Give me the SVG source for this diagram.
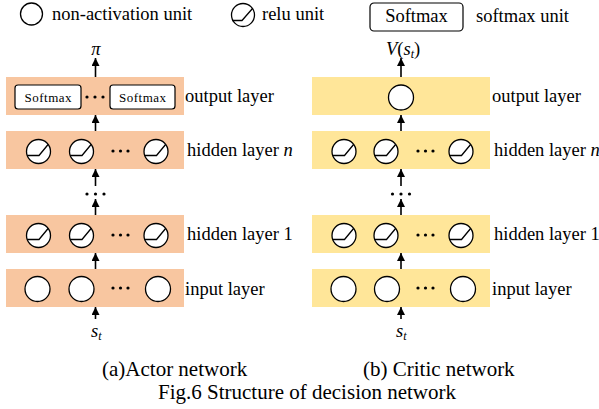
<svg xmlns="http://www.w3.org/2000/svg" width="599" height="409" viewBox="0 0 599 409">
<style>
text{font-family:"Liberation Serif","Times New Roman",serif;fill:#000}
.lbl{font-size:18.5px}
.cap{font-size:21px}
.it{font-style:italic}
.actor{fill:#F8C6A0}
.critic{fill:#FFE699}
.u{fill:#fff;stroke:#000;stroke-width:1.3}
.relu{fill:none;stroke:#000;stroke-width:1.3}
.sm{fill:#fff;stroke:#000;stroke-width:1.2}
.smt{font-size:13px}
.dot{fill:#000}
.arr{stroke:#000;stroke-width:1.6;fill:none;marker-end:url(#ah)}
</style>
<defs>
<marker id="ah" viewBox="0 0 10 10" refX="10" refY="5" markerWidth="8" markerHeight="8" markerUnits="userSpaceOnUse" orient="auto">
<path d="M0,0 L10,5 L0,10 z" fill="#000"/>
</marker>
<g id="reluU">
<circle r="12" class="u"/>
<path d="M-11.3,4 H0.5 L9.6,-7" class="relu"/>
</g>
</defs>

<!-- legend -->
<g id="legend">
<circle cx="31.5" cy="14" r="11" class="u"/>
<text x="52" y="20" class="lbl">non-activation unit</text>
<circle cx="243" cy="15" r="11.5" class="u"/>
<path d="M232.3,20.5 H242 L252.5,8.5" class="relu"/>
<text x="262" y="20" class="lbl">relu unit</text>
<rect x="370" y="3" width="93" height="28" rx="4" class="sm"/>
<text x="416.5" y="22" class="lbl" text-anchor="middle">Softmax</text>
<text x="476" y="22" class="lbl">softmax unit</text>
</g>

<!-- actor network -->
<g id="actor-output">
<rect x="6" y="77" width="178" height="38" class="actor"/>
<rect x="15" y="85" width="66" height="24" rx="3" class="sm"/>
<text x="48" y="102" class="smt" text-anchor="middle" textLength="47" lengthAdjust="spacing">Softmax</text>
<circle cx="87" cy="97" r="1.6" class="dot"/><circle cx="95" cy="97" r="1.6" class="dot"/><circle cx="103" cy="97" r="1.6" class="dot"/>
<rect x="110" y="85" width="65" height="24" rx="3" class="sm"/>
<text x="142.5" y="102" class="smt" text-anchor="middle" textLength="47" lengthAdjust="spacing">Softmax</text>
<text x="185" y="102" class="lbl">output layer</text>
</g>
<g id="actor-hidden-n">
<rect x="6" y="131" width="178" height="38" class="actor"/>
<use href="#reluU" x="38.5" y="151.5"/>
<use href="#reluU" x="81.5" y="151.5"/>
<circle cx="113" cy="151" r="1.6" class="dot"/><circle cx="120.5" cy="151" r="1.6" class="dot"/><circle cx="128" cy="151" r="1.6" class="dot"/>
<use href="#reluU" x="156" y="151.5"/>
<text x="187" y="156" class="lbl">hidden layer <tspan class="it">n</tspan></text>
</g>
<g id="actor-hidden-1">
<rect x="6" y="215" width="178" height="38" class="actor"/>
<use href="#reluU" x="38.5" y="235.5"/>
<use href="#reluU" x="81.5" y="235.5"/>
<circle cx="113" cy="235" r="1.6" class="dot"/><circle cx="120.5" cy="235" r="1.6" class="dot"/><circle cx="128" cy="235" r="1.6" class="dot"/>
<use href="#reluU" x="156" y="235.5"/>
<text x="187" y="240" class="lbl">hidden layer 1</text>
</g>
<g id="actor-input">
<rect x="6" y="269" width="178" height="38" class="actor"/>
<circle cx="37.5" cy="289" r="12.5" class="u"/>
<circle cx="81.5" cy="289" r="12.5" class="u"/>
<circle cx="113" cy="288" r="1.6" class="dot"/><circle cx="120.5" cy="288" r="1.6" class="dot"/><circle cx="128" cy="288" r="1.6" class="dot"/>
<circle cx="158" cy="289" r="12.5" class="u"/>
<text x="185" y="295" class="lbl">input layer</text>
</g>
<g id="actor-labels">
<text x="96" y="55" class="lbl it" text-anchor="middle">π</text>
<text x="91" y="337" class="lbl it">s<tspan font-size="12" dy="3">t</tspan></text>
<circle cx="87" cy="194" r="1.6" class="dot"/><circle cx="95.5" cy="194" r="1.6" class="dot"/><circle cx="104" cy="194" r="1.6" class="dot"/>
</g>

<!-- critic network -->
<g id="critic-output">
<rect x="312" y="77" width="178" height="38" class="critic"/>
<circle cx="401" cy="97.5" r="12.5" class="u"/>
<text x="492" y="102" class="lbl">output layer</text>
</g>
<g id="critic-hidden-n">
<rect x="312" y="131" width="178" height="38" class="critic"/>
<use href="#reluU" x="344" y="151.5"/>
<use href="#reluU" x="386" y="151.5"/>
<circle cx="418" cy="151" r="1.6" class="dot"/><circle cx="425.5" cy="151" r="1.6" class="dot"/><circle cx="433" cy="151" r="1.6" class="dot"/>
<use href="#reluU" x="461" y="151.5"/>
<text x="494" y="156" class="lbl">hidden layer <tspan class="it">n</tspan></text>
</g>
<g id="critic-hidden-1">
<rect x="312" y="215" width="178" height="38" class="critic"/>
<use href="#reluU" x="344" y="235.5"/>
<use href="#reluU" x="386" y="235.5"/>
<circle cx="418" cy="235" r="1.6" class="dot"/><circle cx="425.5" cy="235" r="1.6" class="dot"/><circle cx="433" cy="235" r="1.6" class="dot"/>
<use href="#reluU" x="461" y="235.5"/>
<text x="494" y="240" class="lbl">hidden layer 1</text>
</g>
<g id="critic-input">
<rect x="312" y="269" width="178" height="38" class="critic"/>
<circle cx="343.5" cy="289" r="12.5" class="u"/>
<circle cx="387" cy="289" r="12.5" class="u"/>
<circle cx="418" cy="288" r="1.6" class="dot"/><circle cx="425.5" cy="288" r="1.6" class="dot"/><circle cx="433" cy="288" r="1.6" class="dot"/>
<circle cx="463" cy="289" r="12.5" class="u"/>
<text x="492" y="295" class="lbl">input layer</text>
</g>
<g id="critic-labels">
<text x="386" y="55" class="lbl"><tspan class="it">V</tspan>(<tspan class="it">s</tspan><tspan class="it" font-size="12" dy="3">t</tspan><tspan dy="-3">)</tspan></text>
<text x="396" y="337" class="lbl it">s<tspan font-size="12" dy="3">t</tspan></text>
<circle cx="392.5" cy="194" r="1.6" class="dot"/><circle cx="401" cy="194" r="1.6" class="dot"/><circle cx="409.5" cy="194" r="1.6" class="dot"/>
</g>

<!-- connectors -->
<g id="connectors">
<line x1="95.5" y1="77" x2="95.5" y2="58" class="arr"/>
<line x1="95.5" y1="131" x2="95.5" y2="115" class="arr"/>
<line x1="95.5" y1="186" x2="95.5" y2="169" class="arr"/>
<line x1="95.5" y1="215" x2="95.5" y2="199" class="arr"/>
<line x1="95.5" y1="269" x2="95.5" y2="253" class="arr"/>
<line x1="95.5" y1="319" x2="95.5" y2="307" class="arr"/>
<line x1="401" y1="77" x2="401" y2="58" class="arr"/>
<line x1="401" y1="131" x2="401" y2="115" class="arr"/>
<line x1="401" y1="186" x2="401" y2="169" class="arr"/>
<line x1="401" y1="215" x2="401" y2="199" class="arr"/>
<line x1="401" y1="269" x2="401" y2="253" class="arr"/>
<line x1="401" y1="319" x2="401" y2="307" class="arr"/>
</g>

<!-- captions -->
<text x="102" y="376" class="cap">(a)Actor network</text>
<text x="363" y="376" class="cap">(b) Critic network</text>
<text x="158" y="399" class="cap">Fig.6 Structure of decision network</text>
</svg>
